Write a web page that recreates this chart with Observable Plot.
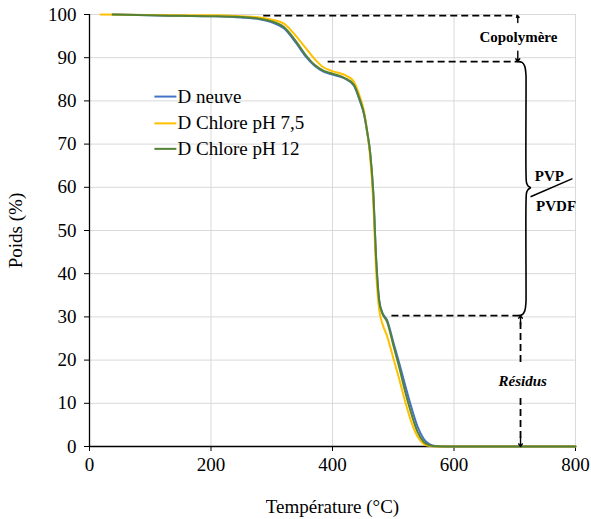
<!DOCTYPE html>
<html>
<head>
<meta charset="utf-8">
<script src="https://cdn.jsdelivr.net/npm/d3@7"></script>
<script src="https://cdn.jsdelivr.net/npm/@observablehq/plot@0.6"></script>
<style>
  html, body { margin: 0; padding: 0; background: #fff; }
  #chart svg { display: block; font-family: 'Liberation Serif', 'Times New Roman', serif !important; }
  #chart svg text, #chart svg g { font-family: 'Liberation Serif', 'Times New Roman', serif !important; }
</style>
</head>
<body>
<div id="chart"></div>
<script>
// ---- Data ----
const seriesNames = ["D neuve", "D Chlore pH 7,5", "D Chlore pH 12"];
const seriesColors = ["#4472C4", "#FFC000", "#548235"];

const tempNeuve = [38, 100, 150, 200, 250, 280, 300, 320, 340, 355, 370, 385, 400, 420, 435, 445, 452, 457, 462, 467, 472, 477, 482, 490, 500, 510, 520, 530, 540, 550, 560, 570, 580, 600, 700, 800];
const poidsNeuve = [100, 99.8, 99.7, 99.6, 99.3, 98.9, 98.2, 96.8, 93.4, 90.4, 88.2, 86.8, 86.1, 85.2, 83.6, 80.0, 76.8, 72.8, 68.0, 59.0, 43.0, 33.8, 31.0, 29.2, 24.2, 19.2, 14.0, 9.0, 4.6, 1.8, 0.5, 0.1, 0.0, 0.0, 0.0, 0.0];

const tempPH75 = [18, 100, 150, 200, 250, 280, 300, 320, 340, 355, 370, 385, 400, 420, 435, 445, 452, 457, 462, 467, 472, 477, 482, 490, 500, 510, 520, 530, 540, 550, 560, 570, 600, 700, 800];
const poidsPH75 = [100, 99.9, 99.8, 99.8, 99.6, 99.3, 98.8, 97.9, 95.0, 92.4, 89.8, 87.8, 86.9, 86.0, 84.5, 81.0, 77.5, 73.0, 67.0, 57.0, 40.0, 31.5, 28.5, 25.5, 20.5, 15.5, 10.2, 5.6, 2.3, 0.6, 0.1, 0.0, 0.0, 0.0, 0.0];

const tempPH12 = [38, 100, 150, 200, 250, 280, 300, 320, 340, 355, 370, 385, 400, 420, 435, 445, 452, 457, 462, 467, 472, 477, 482, 490, 500, 510, 520, 530, 540, 550, 560, 570, 600, 700, 800];
const poidsPH12 = [100, 99.8, 99.7, 99.6, 99.4, 99.0, 98.4, 97.1, 93.8, 90.8, 88.4, 87.0, 86.3, 85.3, 83.8, 80.3, 77.0, 73.0, 68.0, 59.0, 43.0, 33.5, 30.8, 28.8, 23.5, 18.2, 12.5, 7.5, 3.4, 1.1, 0.3, 0.05, 0.0, 0.0, 0.0];

const xTicks = [0, 200, 400, 600, 800];
const yTicks = [0, 10, 20, 30, 40, 50, 60, 70, 80, 90, 100];

// annotation levels (data units)
const levelCopo = 99.75;   // top of copolymer step
const levelPVP = 89.1;     // end of copolymer step
const levelRes = 30.3;     // start of residue
const dashStarts = [286, 392, 497];
const dashLevels = [levelCopo, levelPVP, levelRes];
const annotX = 705;
const residusX = 709.5;

// ---- Build tidy table ----
const rows = [];
[[tempNeuve, poidsNeuve], [tempPH75, poidsPH75], [tempPH12, poidsPH12]].forEach(([t, p], i) => {
  t.forEach((v, j) => rows.push({series: seriesNames[i], T: v, P: p[j]}));
});

// brace "}" from levelPVP down to levelRes
const braceMid = 59.9;
const braceX0 = annotX, braceX1 = 718.6, braceTip = 726;
const brace = [
  [braceX0, levelPVP], [712, levelPVP - 0.2], [716.5, levelPVP - 1.1], [braceX1 - 0.2, levelPVP - 3], [braceX1, levelPVP - 5],
  [braceX1, braceMid + 3], [braceX1 + 0.9, braceMid + 1.1], [722, braceMid + 0.4], [braceTip, braceMid],
  [722, braceMid - 0.4], [braceX1 + 0.9, braceMid - 1.1], [braceX1, braceMid - 3],
  [braceX1, levelRes + 5], [braceX1 - 0.2, levelRes + 3], [716.5, levelRes + 1.1], [712, levelRes + 0.2], [braceX0, levelRes]
].map(([x, y]) => ({x, y}));

const legendY = [81.0, 74.8, 68.9];
const legendX1 = 106.8, legendX2 = 143, legendTextX = 145;

const serif = "'Liberation Serif', 'Times New Roman', serif";

const chart = Plot.plot({
  width: 591,
  height: 519,
  marginLeft: 89,
  marginRight: 16,
  marginTop: 14,
  marginBottom: 73,
  style: {fontFamily: serif, fontSize: "19px", color: "#000", background: "#fff"},
  x: {domain: [0, 800], ticks: xTicks, label: "Température (°C)", labelAnchor: "center", labelArrow: "none"},
  y: {domain: [0, 100], ticks: yTicks, label: "Poids (%)", labelAnchor: "center", labelArrow: "none"},
  marks: [
    Plot.ruleY(yTicks.filter(d => d > 0), {stroke: "#d9d9d9", strokeWidth: 1}),
    Plot.ruleX(xTicks.filter(d => d > 0), {stroke: "#d9d9d9", strokeWidth: 1}),
    Plot.axisX({ticks: xTicks, tickSize: 5, tickPadding: 6, fontSize: 19, fontFamily: serif, label: "Température (°C)", labelAnchor: "center", labelArrow: "none", labelOffset: 66}),
    Plot.axisY({ticks: yTicks, tickSize: 5, tickPadding: 8, fontSize: 19, fontFamily: serif, label: "Poids (%)", labelAnchor: "center", labelArrow: "none", labelOffset: 81}),
    Plot.ruleX([0], {stroke: "#000", strokeWidth: 1.3}),
    Plot.ruleY([0], {stroke: "#000", strokeWidth: 1.3}),
    // dashed guide lines
    Plot.link(dashLevels, {x1: (d, i) => dashStarts[i], x2: annotX, y1: d => d, y2: d => d, stroke: "#000", strokeWidth: 1.8, strokeDasharray: "7,4"}),
    // curves
    Plot.line(rows, {x: "T", y: "P", z: "series", stroke: d => seriesColors[seriesNames.indexOf(d.series)], strokeWidth: 2, curve: "monotone-x"}),
    // legend
    Plot.link(legendY, {x1: legendX1, x2: legendX2, y1: d => d, y2: d => d, stroke: (d, i) => seriesColors[i], strokeWidth: 2}),
    Plot.text(seriesNames, {x: legendTextX, y: (d, i) => legendY[i], text: d => d, textAnchor: "start", fontSize: 19, fontFamily: serif}),
    // Copolymère annotation
    Plot.arrow([0], {x1: annotX, x2: annotX, y1: levelCopo - 1.6, y2: levelCopo, stroke: "#000", strokeWidth: 1.4, headLength: 7, headAngle: 70}),
    Plot.arrow([0], {x1: annotX, x2: annotX, y1: levelPVP + 2.4, y2: levelPVP, stroke: "#000", strokeWidth: 1.4, headLength: 7, headAngle: 70}),
    Plot.text(["Copolymère"], {x: annotX + 1, y: 94.7, text: d => d, fontWeight: "bold", fontSize: 15, fontFamily: serif}),
    // brace
    Plot.line(brace, {x: "x", y: "y", stroke: "#000", strokeWidth: 1.6, curve: "catmull-rom"}),
    Plot.link([0], {x1: 726, y1: 57.8, x2: 795, y2: 62, stroke: "#000", strokeWidth: 1.5}),
    Plot.text(["PVP"], {x: 757, y: 62.6, text: d => d, fontWeight: "bold", fontSize: 15, fontFamily: serif}),
    Plot.text(["PVDF"], {x: 768, y: 55.7, text: d => d, fontWeight: "bold", fontSize: 15, fontFamily: serif}),
    // Résidus annotation
    Plot.link([[levelRes - 1.5, 19.3], [11.2, 1.5]], {x1: residusX, x2: residusX, y1: d => d[0], y2: d => d[1], stroke: "#000", strokeWidth: 1.8, strokeDasharray: "7,4"}),
    Plot.arrow([0], {x1: residusX, x2: residusX, y1: levelRes - 2.2, y2: levelRes, stroke: "#000", strokeWidth: 1.4, headLength: 7, headAngle: 70}),
    Plot.arrow([0], {x1: residusX, x2: residusX, y1: 2.2, y2: 0, stroke: "#000", strokeWidth: 1.4, headLength: 7, headAngle: 70}),
    Plot.text(["Résidus"], {x: 713, y: 15.2, text: d => d, fontWeight: "bold", fontStyle: "italic", fontSize: 15, fontFamily: serif})
  ]
});
document.getElementById("chart").appendChild(chart);
</script>
</body>
</html>
